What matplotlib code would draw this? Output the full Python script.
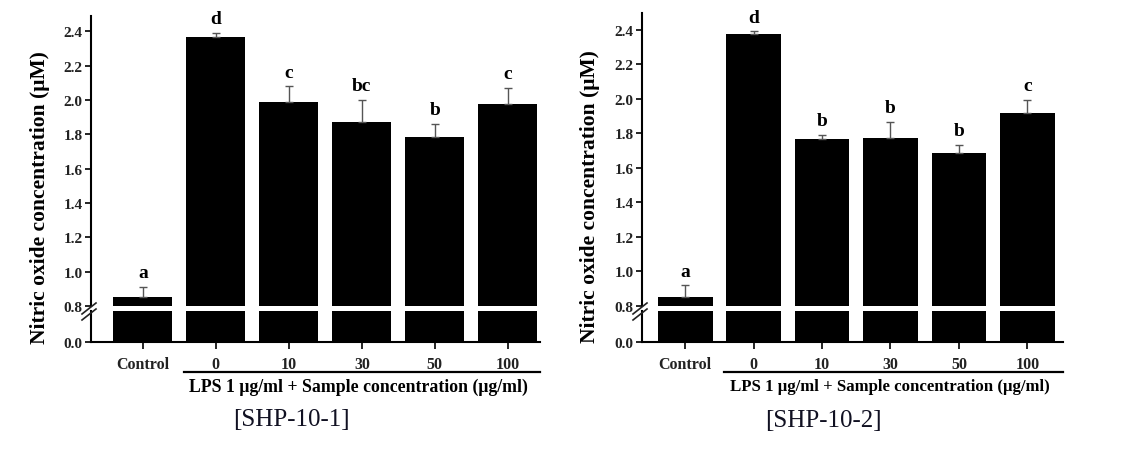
import matplotlib
matplotlib.use("Agg")
import matplotlib.pyplot as plt
import matplotlib.transforms as mtrans
import numpy as np

# data
groups = ["Control", "0", "10", "30", "50", "100"]
no_1 = [0.85, 2.37, 1.99, 1.87, 1.785, 1.98]
err_1 = [0.06, 0.02, 0.09, 0.13, 0.075, 0.09]
letters_1 = ["a", "d", "c", "bc", "b", "c"]
no_2 = [0.855, 2.375, 1.77, 1.775, 1.685, 1.92]
err_2 = [0.065, 0.015, 0.02, 0.09, 0.05, 0.075]
letters_2 = ["a", "d", "b", "b", "b", "c"]
yticks_top = [0.8, 1.0, 1.2, 1.4, 1.6, 1.8, 2.0, 2.2, 2.4]
ylabel = "Nitric oxide concentration (\u03bcM)"
xgroup_label = "LPS 1 \u03bcg/ml + Sample concentration (\u03bcg/ml)"
captions = ["[SHP-10-1]", "[SHP-10-2]"]

plt.rcParams["font.family"] = ["Liberation Serif", "DejaVu Serif"]
plt.rcParams["font.weight"] = "bold"

W, H = 1128, 456
fig = plt.figure(figsize=(W / 100, H / 100), dpi=100)


def px_axes(l, r, t, b):
    return [l / W, 1 - b / H, (r - l) / W, (b - t) / H]


def panel(vals, errs, lets, l, r, t, brk_t, brk_b, b, xlim, ytop, bw, lab_xy, cap_xy,
          caption, grp_fs):
    ax_t = fig.add_axes(px_axes(l, r, t, brk_t))
    ax_b = fig.add_axes(px_axes(l, r, brk_b, b))
    x = np.arange(len(vals))
    lower = [0] * len(vals)
    for ax in (ax_t, ax_b):
        ax.bar(x, vals, width=bw, color="black", zorder=2)
        ax.set_xlim(*xlim)
        for s in ("top", "right"):
            ax.spines[s].set_visible(False)
        ax.spines["left"].set_linewidth(1.5)
        ax.spines["bottom"].set_linewidth(1.5)
        ax.tick_params(axis="y", direction="out", length=4, width=1.2,
                       labelsize=11, labelcolor="#222222", pad=2)
    ax_t.errorbar(x, vals, yerr=[lower, errs], fmt="none", ecolor="#555555",
                  elinewidth=1, capsize=3, capthick=1, zorder=3)
    ax_t.set_ylim(0.8, ytop)
    ax_t.set_yticks(yticks_top)
    ax_t.set_yticklabels(["%.1f" % v for v in yticks_top])
    ax_t.spines["bottom"].set_visible(False)
    ax_t.set_xticks([])
    for xi, v, e, s in zip(x, vals, errs, lets):
        ax_t.annotate(s, (xi, v + e), xytext=(0, 7), textcoords="offset points",
                      ha="center", va="baseline", fontsize=14, fontweight="bold")

    ax_b.set_ylim(0, 0.8)
    ax_b.set_yticks([0.0])
    ax_b.set_yticklabels(["0.0"])
    ax_b.set_xticks(x)
    ax_b.set_xticklabels(groups, fontsize=11.5, color="#222222")
    ax_b.tick_params(axis="x", direction="out", length=5, width=1.2, pad=5)

    # axis break marks
    for dy in (0, 6):
        fig.add_artist(plt.Line2D([(l - 9) / W, (l + 5) / W],
                                  [1 - (brk_b + 3 + dy) / H, 1 - (brk_t - 3 + dy) / H],
                                  color="#222222", lw=1.2))

    # group line + label under the LPS bars
    x0 = 1 - bw / 2 - 0.03
    x1 = xlim[1]
    tr = mtrans.blended_transform_factory(ax_b.transData, ax_b.transAxes)
    ax_b.plot([x0, x1], [0, 0], color="black", lw=1.6, clip_on=False,
              transform=tr + mtrans.ScaledTranslation(0, -0.30, fig.dpi_scale_trans))
    ax_b.text((x0 + x1) / 2 - 0.05, 0, xgroup_label, ha="center", va="center",
              fontsize=grp_fs,
              transform=tr + mtrans.ScaledTranslation(0, -0.44, fig.dpi_scale_trans))

    fig.text(lab_xy[0] / W, 1 - lab_xy[1] / H, ylabel, rotation=90, ha="center",
             va="center", fontsize=15.5, fontweight="bold")

    fig.text(cap_xy[0] / W, 1 - cap_xy[1] / H, caption, ha="center", va="center",
             fontsize=18, fontweight="normal", color="#111122")


panel(no_1, err_1, letters_1, 91, 540, 17, 307, 312, 343, (-0.71, 5.44), 2.49, 0.81,
      (40, 198), (291, 420), captions[0], 12.8)
panel(no_2, err_2, letters_2, 642, 1063, 14, 307, 312, 343, (-0.63, 5.52), 2.497, 0.80,
      (590, 197), (823, 421), captions[1], 12.1)

fig.savefig("out.png", dpi=100, facecolor="white")
